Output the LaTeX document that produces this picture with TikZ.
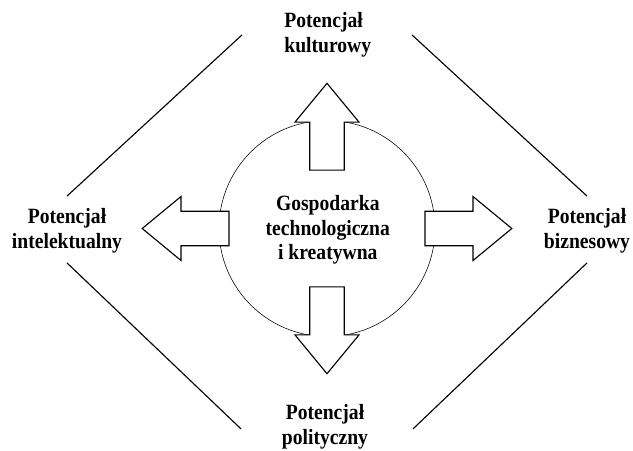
\documentclass[tikz,border=0pt]{standalone}
\usepackage{fontspec}
\setmainfont{Liberation Serif}[FakeStretch=0.9]
\usetikzlibrary{positioning}

\begin{document}
\begin{tikzpicture}[label/.style={font=\bfseries\fontsize{15.5}{17.5}\selectfont,align=center}]
            \useasboundingbox (-8.175,-5.5375) rectangle (7.65,5.7125);
            \draw[line width=0.4pt] (0,0) circle (2.7);
            \foreach \a/\s in {0/2.45,90/1.46,180/2.45,270/1.46}
                \filldraw[fill=white,line width=0.8pt,line join=miter,rotate=\a]
                    (\s,0.43)--(\s+1.2,0.43)--(\s+1.2,0.8)--(\s+2.17,0)
                    --(\s+1.2,-0.8)--(\s+1.2,-0.43)--(\s,-0.43)--cycle;
            \node[label] (core) at (0.02,-0.04) {Gospodarka\\technologiczna\\i kreatywna};
            \node[label,align=left] (kult) at (0.02,4.84) {Potencjał\\kulturowy};
            \node[label] (intel) at (-6.5,-0.06) {Potencjał\\intelektualny};
            \node[label] (bizn) at (6.5,-0.06) {Potencjał\\biznesowy};
            \node[label] (polit) at (-0.05,-4.96) {Potencjał\\polityczny};
            \draw[line width=0.8pt] (-6.5,0.81)--(-2.125,4.84);
            \draw[line width=0.8pt] (2.125,4.84)--(6.5,0.81);
            \draw[line width=0.8pt] (-6.5,-0.86)--(-2.15,-5.01);
            \draw[line width=0.8pt] (6.5,-0.86)--(2.15,-5.01);
        \end{tikzpicture}
\end{document}
